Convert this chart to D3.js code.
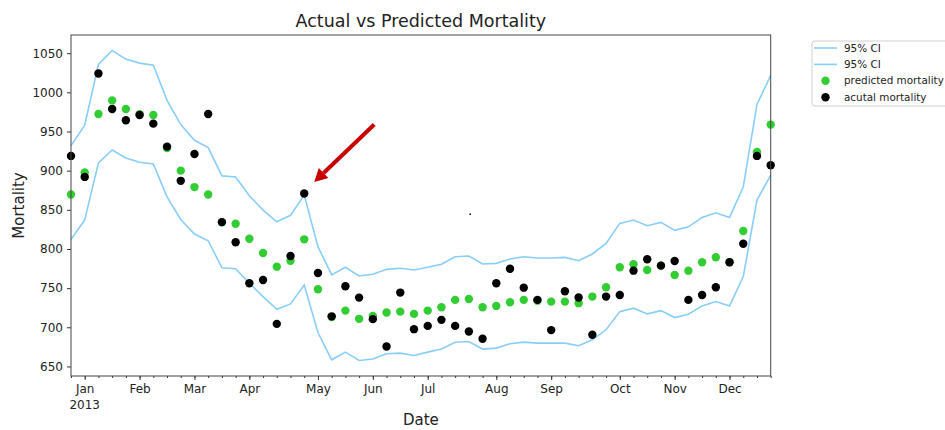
<!DOCTYPE html>
<html>
<head>
<meta charset="utf-8">
<script src="https://cdn.jsdelivr.net/npm/d3@7"></script>
<style>
  body { margin: 0; background: #fff; }
  text { font-family: 'DejaVu Sans', sans-serif; fill: #222; }
</style>
</head>
<body>
<div id="wrapper"></div>
<script>
// weekly values for 2013
const upperCI = [932, 958, 1035.6, 1053.4, 1042.4, 1037.3, 1034.7, 989.7, 958.8, 938.8, 929.5, 893.3, 892,
  868, 849.6, 834.7, 843, 868.7, 802.9, 766.8, 776.6, 765.5, 767.7, 774, 775.3,
  773.2, 776.6, 780.4, 790.1, 791, 780.8, 781.6, 787.2, 790.1, 788.5, 788.5, 789.3, 785,
  793.6, 807.2, 832.7, 836.9, 829.6, 833.9, 823.8, 828.3, 840.3, 846.2, 840.3, 879.3, 984.6, 1021.6]
const lowerCI = [812, 837, 910, 926.4, 916.2, 910.8, 908.6, 866.6, 837.7, 819, 810.5, 776, 774.8,
  756.2, 739.2, 723, 729.9, 754, 693.3, 658.5, 668.3, 657.6, 659.4, 666.2, 667,
  664, 668.3, 672.2, 681, 681.9, 672.2, 673.4, 679, 681, 679.8, 679.8, 679.8, 676.4,
  684, 696.8, 720, 724.4, 717.1, 721.3, 712.4, 716.7, 727.3, 732.8, 727.3, 764.7, 862.4, 894.2]
const predicted = [869.6, 897.6, 972.3, 989.7, 978.7, 972, 971, 929, 900, 879, 869.6, 834, 832.2,
  813, 794.8, 777.4, 785, 812.3, 748.6, 713, 721.3, 710.8, 714.6, 718.8, 720,
  717.1, 721.3, 725.6, 735, 736.2, 725.6, 727.3, 732, 735, 734, 732.8, 732.8, 730.8,
  739.2, 751.1, 776.6, 780.4, 773.2, 778.7, 766.8, 772.3, 783, 789.4, 783, 822.9, 923.9, 958.8]
const actual = [918.8, 892, 1024, 978.7, 964.3, 971, 960, 930.7, 887, 921.3, 972.3, 834.3, 808.5,
  756.2, 760.4, 704.4, 791, 870.9, 769.4, 714, 752.4, 737.9, 710.4, 675.5, 744.3,
  697.6, 701.8, 709.5, 701.8, 694.6, 685.3, 756.2, 774.8, 750.6, 735, 696.4, 746, 738,
  690.4, 739.2, 741.3, 772.3, 786.8, 778.7, 784.7, 735, 741.3, 751.1, 783, 806.7, 918.8, 907]
const monthWeeks = [1, 5, 9, 13, 18, 22, 26, 31, 35, 40, 44, 48]
const monthLabels = ['Jan', 'Feb', 'Mar', 'Apr', 'May', 'Jun', 'Jul', 'Aug', 'Sep', 'Oct', 'Nov', 'Dec']
const yTicks = [650, 700, 750, 800, 850, 900, 950, 1000, 1050]
const legendItems = [
  { label: '95% CI', type: 'line', color: '#87cefa' },
  { label: '95% CI', type: 'line', color: '#87cefa' },
  { label: 'predicted mortality', type: 'dot', color: '#32cd32' },
  { label: 'acutal mortality', type: 'dot', color: '#000000' },
]
const highlightWeek = 17

const dimensions = {
  width: 945,
  height: 430,
  margin: { top: 35, right: 174.3, bottom: 54, left: 71 },
}
dimensions.boundedWidth = dimensions.width - dimensions.margin.left - dimensions.margin.right
dimensions.boundedHeight = dimensions.height - dimensions.margin.top - dimensions.margin.bottom

const weeks = upperCI.map((d, i) => i)

const wrapper = d3
  .select('#wrapper')
  .append('svg')
  .attr('width', dimensions.width)
  .attr('height', dimensions.height)

const bounds = wrapper
  .append('g')
  .attr('transform', `translate(${dimensions.margin.left}, ${dimensions.margin.top})`)

const xScale = d3
  .scaleLinear()
  .domain(d3.extent(weeks))
  .range([0, dimensions.boundedWidth])

// matplotlib style 5% padding
const [lo, hi] = d3.extent([...upperCI, ...lowerCI, ...predicted, ...actual])
const pad = (hi - lo) * 0.05
const yScale = d3
  .scaleLinear()
  .domain([lo - pad, hi + pad])
  .range([dimensions.boundedHeight, 0])

// axes
const yAxis = bounds
  .append('g')
  .call(d3.axisLeft(yScale).tickValues(yTicks).tickSize(4).tickPadding(4).tickFormat(d3.format('d')))
yAxis.select('.domain').remove()
yAxis.selectAll('line').attr('stroke', '#333')
yAxis.selectAll('text').style('font-size', '12px')

const xMinor = bounds
  .append('g')
  .attr('transform', `translate(0, ${dimensions.boundedHeight})`)
  .call(d3.axisBottom(xScale).tickValues(weeks).tickSize(2).tickFormat(''))
xMinor.select('.domain').remove()
xMinor.selectAll('line').attr('stroke', '#333')

const xAxis = bounds
  .append('g')
  .attr('transform', `translate(0, ${dimensions.boundedHeight})`)
  .call(
    d3.axisBottom(xScale)
      .tickValues(monthWeeks)
      .tickSize(4)
      .tickPadding(4)
      .tickFormat((d, i) => monthLabels[i]),
  )
xAxis.select('.domain').remove()
xAxis.selectAll('line').attr('stroke', '#333')
xAxis.selectAll('text').style('font-size', '12px')
xAxis
  .append('text')
  .attr('x', xScale(monthWeeks[0]))
  .attr('y', 33)
  .style('text-anchor', 'middle')
  .style('font-size', '12px')
  .style('fill', '#222')
  .text('2013')

// CI lines
const lineGenerator = (values) =>
  d3.line()
    .x((d, i) => xScale(i))
    .y((d) => yScale(d))(values)

bounds
  .append('g')
  .selectAll('path')
  .data([upperCI, lowerCI])
  .enter()
  .append('path')
  .attr('fill', 'none')
  .attr('stroke', '#87cefa')
  .attr('stroke-width', 1.6)
  .attr('d', (d) => lineGenerator(d))

bounds
  .append('g')
  .selectAll('circle')
  .data(predicted)
  .enter()
  .append('circle')
  .attr('cx', (d, i) => xScale(i))
  .attr('cy', (d) => yScale(d))
  .attr('r', 4.2)
  .attr('fill', '#32cd32')

bounds
  .append('g')
  .selectAll('circle')
  .data(actual)
  .enter()
  .append('circle')
  .attr('cx', (d, i) => xScale(i))
  .attr('cy', (d) => yScale(d))
  .attr('r', 4.2)
  .attr('fill', '#000')

// frame
bounds
  .append('rect')
  .attr('width', dimensions.boundedWidth)
  .attr('height', dimensions.boundedHeight)
  .attr('fill', 'none')
  .attr('stroke', '#444')
  .attr('stroke-width', 1)

// arrow pointing at the outlier week
const tipX = xScale(highlightWeek) + 10
const tipY = yScale(actual[highlightWeek]) - 11.5
const tailX = tipX + 60
const tailY = tipY - 57.5
const ang = Math.atan2(tipY - tailY, tipX - tailX)
const headLen = 13
const headHalf = 7
const baseX = tipX - headLen * Math.cos(ang)
const baseY = tipY - headLen * Math.sin(ang)
const nx = -Math.sin(ang)
const ny = Math.cos(ang)
const arrow = bounds.append('g')
arrow
  .append('line')
  .attr('x1', tailX)
  .attr('y1', tailY)
  .attr('x2', baseX)
  .attr('y2', baseY)
  .attr('stroke', '#c80000')
  .attr('stroke-width', 4)
arrow
  .append('polygon')
  .attr('points', [
    [tipX, tipY],
    [baseX + nx * headHalf, baseY + ny * headHalf],
    [baseX - nx * headHalf, baseY - ny * headHalf],
  ].map((p) => p.join(',')).join(' '))
  .attr('fill', '#c80000')

// stray dot in the original figure
wrapper
  .append('rect')
  .attr('x', 469.5)
  .attr('y', 213.5)
  .attr('width', 1.5)
  .attr('height', 1.5)
  .attr('fill', '#000')

// titles
wrapper
  .append('text')
  .attr('x', dimensions.margin.left + dimensions.boundedWidth / 2)
  .attr('y', 27)
  .style('text-anchor', 'middle')
  .style('font-size', '17.5px')
  .text('Actual vs Predicted Mortality')

wrapper
  .append('text')
  .attr('x', dimensions.margin.left + dimensions.boundedWidth / 2)
  .attr('y', 425)
  .style('text-anchor', 'middle')
  .style('font-size', '15px')
  .text('Date')

wrapper
  .append('text')
  .attr('transform', `translate(24, ${dimensions.margin.top + dimensions.boundedHeight / 2}) rotate(-90)`)
  .style('text-anchor', 'middle')
  .style('font-size', '15px')
  .text('Mortality')

// legend
const legend = wrapper.append('g').attr('transform', 'translate(812, 41)')
legend
  .append('rect')
  .attr('width', 150)
  .attr('height', 65)
  .attr('rx', 3)
  .attr('fill', '#fff')
  .attr('stroke', '#d0d0d0')

const legendRows = legend
  .selectAll('.legend-row')
  .data(legendItems)
  .enter()
  .append('g')
  .attr('class', 'legend-row')
  .attr('transform', (d, i) => `translate(0, ${7 + i * 16.4})`)

legendRows
  .filter((d) => d.type === 'line')
  .append('line')
  .attr('x1', 2)
  .attr('x2', 25)
  .attr('stroke', (d) => d.color)
  .attr('stroke-width', 1.6)

legendRows
  .filter((d) => d.type === 'dot')
  .append('circle')
  .attr('cx', 13.5)
  .attr('r', 4.2)
  .attr('fill', (d) => d.color)

legendRows
  .append('text')
  .attr('x', 32)
  .attr('dy', '0.35em')
  .style('font-size', '10.4px')
  .text((d) => d.label)
</script>
</body>
</html>
